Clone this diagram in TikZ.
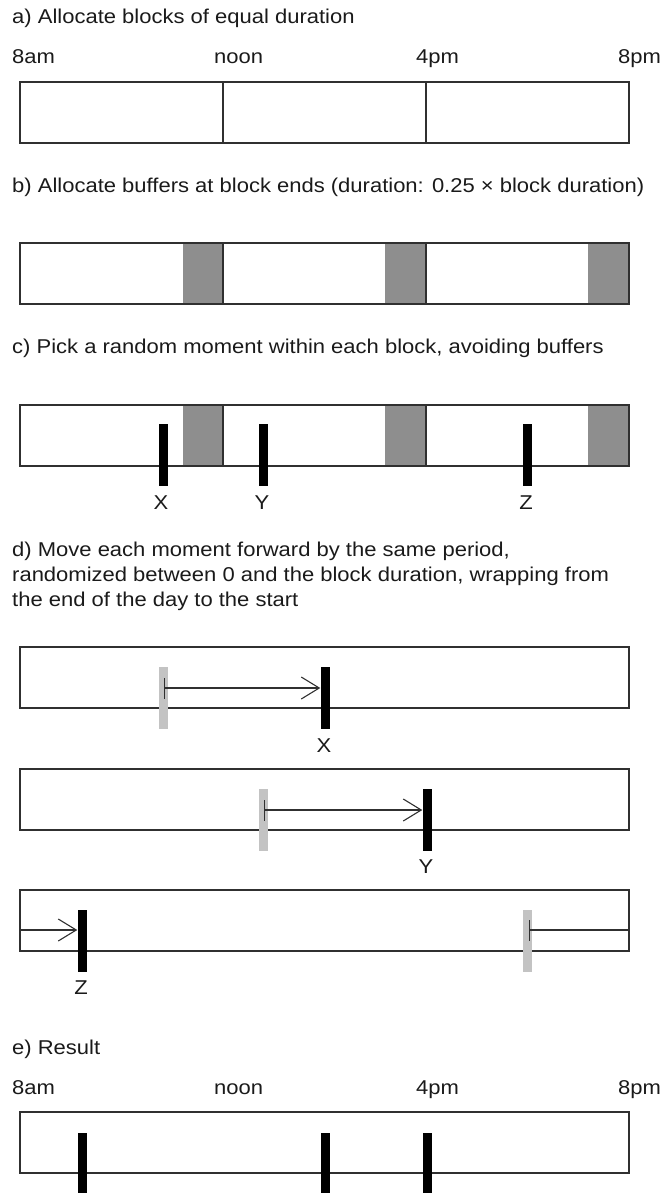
\documentclass[tikz,border=0pt]{standalone}
\usepackage{fontspec}
\setmainfont[FakeStretch=1.1]{Liberation Sans}
\usetikzlibrary{arrows.meta}
\definecolor{buf}{HTML}{8E8E8E}
\definecolor{ghost}{HTML}{C3C3C3}
\definecolor{ink}{HTML}{1A1A1A}
\definecolor{frame}{HTML}{303030}
\begin{document}
\begin{tikzpicture}[x=1pt,y=-1pt,
  txt/.style={inner sep=0,anchor=base west,font=\fontsize{20}{25}\selectfont,text=ink},
  letter/.style={inner sep=0,anchor=base,font=\fontsize{20}{25}\selectfont,text=ink},
  boxline/.style={draw=frame,line width=1.1pt},
  tickblk/.style={fill=black,draw=none,inner sep=0,minimum width=9pt,minimum height=62pt},
  tickgry/.style={fill=ghost,draw=none,inner sep=0,minimum width=9pt,minimum height=62pt},
  mover/.style={draw=frame,line width=1.1pt,{Bar[width=21pt]}-{Straight Barb[length=18pt,width=22pt]}},
  wrapin/.style={draw=frame,line width=1.1pt,-{Straight Barb[length=18pt,width=22pt]}},
  wrapout/.style={draw=frame,line width=1.1pt,{Bar[width=21pt]}-},
]
\useasboundingbox (0,0) rectangle (664,1193);

% ---------- a ----------
\node[txt] (ta) at (12,24) {a) Allocate blocks of equal duration};
\node[txt] (a8am) at (12,64) {8am};
\node[txt] (anoon) at (214,64) {noon};
\node[txt] (a4pm) at (416,64) {4pm};
\node[txt] (a8pm) at (618,64) {8pm};
\draw[boxline] (20,82) rectangle (629,143);
\draw[boxline] (223,82) -- (223,143);
\draw[boxline] (426,82) -- (426,143);

% ---------- b ----------
\node[txt] (tb) at (12,193) {b) Allocate buffers at block ends (duration: 0.25 × block duration)};
\fill[buf] (183,243) rectangle (223,304);
\fill[buf] (385,243) rectangle (426,304);
\fill[buf] (588,243) rectangle (629,304);
\draw[boxline] (20,243) rectangle (629,304);
\draw[boxline] (223,243) -- (223,304);
\draw[boxline] (426,243) -- (426,304);

% ---------- c ----------
\node[txt] (tc) at (12,353) {c) Pick a random moment within each block, avoiding buffers};
\fill[buf] (183,405) rectangle (223,466);
\fill[buf] (385,405) rectangle (426,466);
\fill[buf] (588,405) rectangle (629,466);
\draw[boxline] (20,405) rectangle (629,466);
\draw[boxline] (223,405) -- (223,466);
\draw[boxline] (426,405) -- (426,466);
\node[tickblk] (cx) at (163,455) {};
\node[tickblk] (cy) at (263,455) {};
\node[tickblk] (cz) at (527,455) {};
\node[letter] (lcx) at (161,509) {X};
\node[letter] (lcy) at (262,509) {Y};
\node[letter] (lcz) at (526,509) {Z};

% ---------- d ----------
\node[txt] (td1) at (12,556) {d) Move each moment forward by the same period,};
\node[txt] (td2) at (12,581) {randomized between 0 and the block duration, wrapping from};
\node[txt] (td3) at (12,606) {the end of the day to the start};

% d: X
\draw[boxline] (20,647) rectangle (629,708);
\node[tickgry] (gx) at (163,698) {};
\node[tickblk] (mx) at (325,698) {};
\coordinate (sx) at (164,688);
\draw[mover] (sx) -- (mx.west |- sx);
\node[letter] (ldx) at (324,752) {X};

% d: Y
\draw[boxline] (20,769) rectangle (629,830);
\node[tickgry] (gy) at (263,820) {};
\node[tickblk] (my) at (427,820) {};
\coordinate (sy) at (264,810);
\draw[mover] (sy) -- (my.west |- sy);
\node[letter] (ldy) at (426,873) {Y};

% d: Z
\draw[boxline] (20,890) rectangle (629,951);
\node[tickgry] (gz) at (527,941) {};
\node[tickblk] (mz) at (82,941) {};
\coordinate (lz) at (20,930);
\coordinate (sz) at (529,930);
\coordinate (rz) at (629,930);
\draw[wrapin] (lz) -- (mz.west |- lz);
\draw[wrapout] (sz) -- (rz);
\node[letter] (ldz) at (81,994) {Z};

% ---------- e ----------
\node[txt] (te) at (12,1054) {e) Result};
\node[txt] (e8am) at (12,1094) {8am};
\node[txt] (enoon) at (214,1094) {noon};
\node[txt] (e4pm) at (416,1094) {4pm};
\node[txt] (e8pm) at (618,1094) {8pm};
\draw[boxline] (20,1112) rectangle (629,1173);
\node[tickblk,minimum height=64pt] (ez) at (82,1165) {};
\node[tickblk,minimum height=64pt] (ex) at (325,1165) {};
\node[tickblk,minimum height=64pt] (ey) at (427,1165) {};
\end{tikzpicture}
\end{document}
